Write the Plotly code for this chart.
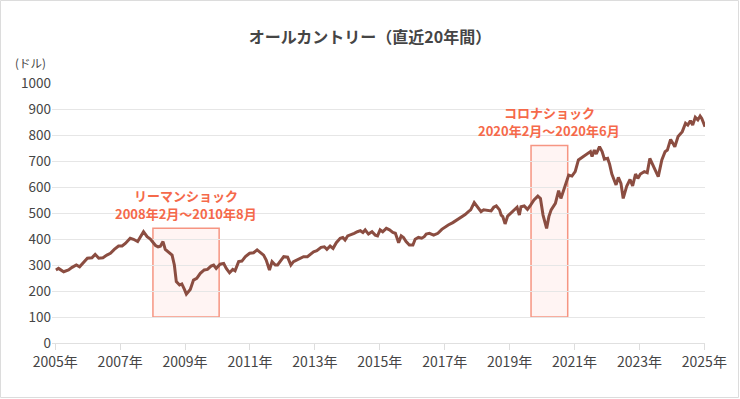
import plotly.graph_objects as go

# Decimal year positions and index value (USD)
years = [2005.02, 2005.10, 2005.26, 2005.41, 2005.52, 2005.65, 2005.75, 2005.87, 2005.99, 2006.13,
         2006.23, 2006.34, 2006.47, 2006.59, 2006.70, 2006.82, 2006.95, 2007.06, 2007.16, 2007.31,
         2007.41, 2007.54, 2007.64, 2007.72, 2007.83, 2007.93, 2008.09, 2008.17, 2008.24, 2008.32,
         2008.39, 2008.48, 2008.60, 2008.67, 2008.73, 2008.83, 2008.90, 2008.98, 2009.04, 2009.16,
         2009.26, 2009.36, 2009.47, 2009.59, 2009.69, 2009.80, 2009.88, 2009.96, 2010.08, 2010.19,
         2010.27, 2010.37, 2010.47, 2010.54, 2010.65, 2010.75, 2010.86, 2010.99, 2011.11, 2011.22,
         2011.32, 2011.42, 2011.50, 2011.60, 2011.68, 2011.78, 2011.85, 2011.96, 2012.04, 2012.16,
         2012.26, 2012.34, 2012.45, 2012.55, 2012.65, 2012.77, 2012.88, 2012.96, 2013.06, 2013.19,
         2013.29, 2013.37, 2013.47, 2013.56, 2013.66, 2013.78, 2013.86, 2013.93, 2014.01, 2014.09,
         2014.21, 2014.31, 2014.40, 2014.48, 2014.55, 2014.65, 2014.76, 2014.86, 2014.93, 2015.01,
         2015.09, 2015.20, 2015.30, 2015.40, 2015.48, 2015.58, 2015.66, 2015.73, 2015.81, 2015.91,
         2016.02, 2016.09, 2016.19, 2016.29, 2016.37, 2016.43, 2016.53, 2016.66, 2016.79, 2016.91,
         2017.01, 2017.11, 2017.25, 2017.38, 2017.48, 2017.63, 2017.73, 2017.80, 2017.91, 2018.04,
         2018.12, 2018.20, 2018.31, 2018.43, 2018.51, 2018.59, 2018.69, 2018.74, 2018.79, 2018.86,
         2018.94, 2019.03, 2019.13, 2019.23, 2019.30, 2019.35, 2019.45, 2019.55, 2019.63, 2019.75,
         2019.87, 2019.95, 2020.03, 2020.14, 2020.21, 2020.28, 2020.41, 2020.51, 2020.58, 2020.72,
         2020.82, 2020.92, 2021.02, 2021.12, 2021.28, 2021.40, 2021.49, 2021.54, 2021.61, 2021.67,
         2021.77, 2021.85, 2021.92, 2022.02, 2022.08, 2022.15, 2022.21, 2022.28, 2022.35, 2022.43,
         2022.50, 2022.61, 2022.71, 2022.79, 2022.88, 2022.95, 2023.03, 2023.15, 2023.24, 2023.32,
         2023.39, 2023.49, 2023.58, 2023.69, 2023.79, 2023.86, 2023.96, 2024.03, 2024.09, 2024.19,
         2024.32, 2024.42, 2024.49, 2024.57, 2024.64, 2024.72, 2024.80, 2024.87, 2024.92, 2024.97,
         2025.02]
values = [281, 287, 274, 281, 291, 300, 293, 309, 326, 328,
          341, 326, 328, 338, 345, 360, 373, 373, 383, 403,
          399, 390, 409, 428, 409, 400, 375, 370, 372, 390,
          360, 351, 338, 300, 236, 223, 227, 206, 188, 206,
          242, 249, 268, 281, 283, 296, 300, 287, 303, 306,
          287, 270, 283, 278, 313, 315, 332, 345, 347, 358,
          347, 338, 319, 281, 313, 300, 300, 319, 332, 330,
          300, 313, 319, 326, 332, 332, 341, 351, 355, 368,
          370, 360, 373, 364, 386, 403, 406, 396, 412, 415,
          422, 428, 432, 425, 435, 419, 428, 415, 412, 435,
          428, 441, 435, 425, 422, 386, 412, 406, 390, 377,
          377, 399, 406, 403, 409, 419, 422, 415, 422, 437,
          447, 454, 463, 473, 483, 494, 505, 512, 540, 518,
          505, 512, 509, 508, 522, 527, 512, 492, 486, 458,
          488, 499, 509, 522, 492, 524, 527, 514, 527, 550,
          565, 556, 492, 441, 486, 512, 537, 586, 556, 608,
          646, 642, 659, 704, 719, 729, 736, 717, 742, 727,
          755, 736, 707, 710, 688, 650, 627, 608, 637, 614,
          556, 604, 629, 604, 650, 633, 650, 659, 655, 710,
          691, 665, 640, 704, 736, 742, 783, 768, 755, 794,
          813, 845, 838, 855, 838, 868, 858, 873, 864, 848,
          832]

tick_years = [2005, 2007, 2009, 2011, 2013, 2015, 2017, 2019, 2021, 2023, 2025]
tick_labels = [f"{y}年" for y in tick_years]
y_ticks = list(range(0, 1001, 100))

# Shock periods (as drawn) and their labels
shock_names = ["リーマンショック", "コロナショック"]
shock_periods = ["2008年2月～2010年8月", "2020年2月～2020年6月"]
shock_x0 = [2008.01, 2019.66]
shock_x1 = [2010.05, 2020.79]
shock_top = [441, 760]
shock_bottom = [100, 100]

FONT = "Noto Sans CJK JP"
ACCENT = "#f5694a"
LINE = "#8b4d41"
TEXT = "#454545"

fig = go.Figure()
fig.add_trace(go.Scatter(x=years, y=values, mode="lines",
                         line=dict(color=LINE, width=3), hoverinfo="skip",
                         showlegend=False))

shapes = []
annotations = []
for i in range(len(shock_names)):
    shapes.append(dict(type="rect", xref="x", yref="y", layer="below",
                       x0=shock_x0[i], x1=shock_x1[i], y0=shock_bottom[i], y1=shock_top[i],
                       fillcolor="rgba(250,120,100,0.08)",
                       line=dict(color="#f69582", width=1.5)))
    xc = (shock_x0[i] + shock_x1[i]) / 2
    yt = shock_top[i]
    annotations.append(dict(x=xc, y=yt, xref="x", yref="y", yshift=33, showarrow=False,
                            text=f"<b>{shock_names[i]}</b>",
                            font=dict(family=FONT, size=13, color=ACCENT)))
    annotations.append(dict(x=xc, y=yt, xref="x", yref="y", yshift=15, showarrow=False,
                            text=f"<b>{shock_periods[i]}</b>",
                            font=dict(family=FONT, size=13, color=ACCENT)))

L, R, T, B = 52, 35, 83, 56
W, H = 740, 399
pw, ph = W - L - R, H - T - B
def px_x(px):
    return (px - L) / pw
def px_y(py):
    return (H - B - py) / ph

annotations.append(dict(x=px_x(30), y=px_y(63), xref="paper", yref="paper",
                        xanchor="center", yanchor="middle", showarrow=False,
                        text="(ドル)", font=dict(family=FONT, size=11.5, color=TEXT)))

# outer frame
shapes.append(dict(type="rect", xref="paper", yref="paper",
                   x0=px_x(0.5), x1=px_x(738.5), y0=px_y(0.5), y1=px_y(397.5),
                   line=dict(color="#dcdcdc", width=1), fillcolor="rgba(0,0,0,0)",
                   layer="below"))

fig.update_layout(
    width=W, height=H,
    margin=dict(l=L, r=R, t=T, b=B),
    paper_bgcolor="white", plot_bgcolor="white",
    title=dict(text="<b>オールカントリー（直近20年間）</b>", x=0.5, xanchor="center",
               y=1 - 37 / H, yanchor="middle",
               font=dict(family=FONT, size=16, color=TEXT)),
    font=dict(family=FONT, size=14, color=TEXT),
    shapes=shapes, annotations=annotations,
    xaxis=dict(range=[2004.9, 2025.02], tickvals=tick_years, ticktext=tick_labels,
               showgrid=False, zeroline=False, showline=False,
               ticks="outside", ticklen=6, tickcolor="#dddddd",
               tickfont=dict(family=FONT, size=14, color=TEXT)),
    yaxis=dict(range=[0, 1000], tickvals=y_ticks, showgrid=True,
               gridcolor="#e6e6e6", gridwidth=1, zeroline=True, zerolinecolor="#e0e0e0",
               zerolinewidth=1, ticks="", showline=False,
               tickfont=dict(family=FONT, size=13.5, color=TEXT)),
)

fig.write_html("out.html", config={"displayModeBar": False},
               post_script="document.body.style.margin='0';")
